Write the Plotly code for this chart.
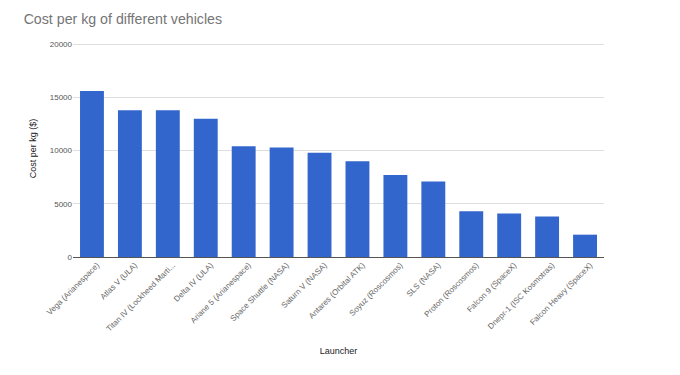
import plotly.graph_objects as go

launchers = ["Vega (Arianespace)", "Atlas V (ULA)", "Titan IV (Lockheed Marti...", "Delta IV (ULA)",
             "Ariane 5 (Arianespace)", "Space Shuttle (NASA)", "Saturn V (NASA)", "Antares (Orbital ATK)",
             "Soyuz (Roscosmos)", "SLS (NASA)", "Proton (Roscosmos)", "Falcon 9 (SpaceX)",
             "Dnepr-1 (ISC Kosmotras)", "Falcon Heavy (SpaceX)"]
cost_per_kg = [15600, 13800, 13800, 13000, 10400, 10300, 9800, 9000, 7700, 7100, 4300, 4100, 3800, 2100]
y_ticks = [0, 5000, 10000, 15000, 20000]
y_tick_labels = ["0", "5000", "10000", "15000", "20000"]

fig = go.Figure(go.Bar(x=launchers, y=cost_per_kg, marker_color="#3366cc", marker_line_width=0))

fig.update_layout(
    width=680, height=375,
    margin=dict(l=65, r=84, t=32, b=126, autoexpand=False),
    paper_bgcolor="white", plot_bgcolor="white",
    font=dict(family="Liberation Sans, Arial, sans-serif", color="#444"),
    title=dict(text="Cost per kg of different vehicles", x=0.023, xanchor="left", y=0.97, yanchor="middle",
               font=dict(size=14.2, color="#757575")),
    bargap=0.37,
    showlegend=False,
)
fig.update_xaxes(tickangle=-45, tickfont=dict(size=8, color="#666"), showgrid=False, automargin=True,
                 ticklabelshift=5, ticklabelstandoff=1,
                 title=dict(text="Launcher", font=dict(size=9, color="#222"), standoff=15),
                 showline=False, ticks="")
fig.update_yaxes(range=[0, 20400], tickvals=y_ticks, ticktext=y_tick_labels, tickfont=dict(size=8, color="#555"),
                 gridcolor="#dedede", zeroline=True, zerolinecolor="#555", zerolinewidth=1, automargin=True,
                 title=dict(text="Cost per kg ($)", font=dict(size=9, color="#222"), standoff=11),
                 ticks="", ticklen=0)

fig.write_html("out.html")
